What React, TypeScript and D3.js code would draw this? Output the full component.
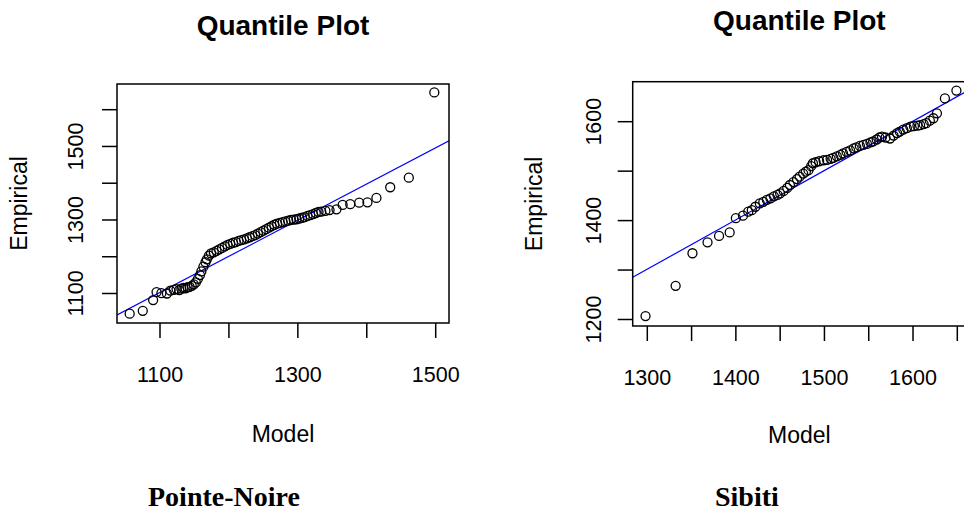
import React from "react";
import * as d3 from "d3";

// ---------- Data ----------
// Pointe-Noire quantile pairs (model, empirical)
const modelPN = [1056,1075,1090,1095,1102,1110,1115,1120,1124,1128,1131,1134,1137,1140,1143,1146,1149,1152,1155,1158,1160,1163,1166,1168,1171,1174,1178,1182,1186,1190,1194,1198,1202,1206,1210,1214,1218,1222,1226,1230,1234,1238,1242,1246,1250,1254,1258,1262,1266,1270,1274,1278,1282,1286,1290,1294,1298,1302,1306,1310,1314,1318,1322,1326,1330,1334,1340,1346,1356,1365,1376,1389,1401,1414,1434,1461,1498];
const empPN = [1045,1053,1082,1104,1101,1100,1108,1110,1112,1109,1113,1115,1114,1117,1118,1121,1125,1130,1140,1150,1160,1173,1185,1193,1203,1209,1212,1216,1220,1224,1228,1232,1235,1238,1240,1243,1245,1247,1250,1253,1256,1259,1263,1267,1271,1275,1279,1283,1287,1290,1292,1294,1296,1298,1300,1301,1302,1304,1306,1308,1311,1313,1316,1319,1322,1323,1325,1327,1329,1341,1343,1347,1348,1360,1389,1415,1647];

// Sibiti quantile pairs (model, empirical)
const modelSB = [1298,1332,1351,1368,1381,1393,1400,1408,1414,1418,1422,1427,1431,1435,1439,1443,1447,1450,1454,1458,1461,1465,1469,1472,1476,1479,1482,1485,1487,1490,1494,1499,1503,1507,1510,1514,1518,1521,1525,1529,1533,1536,1540,1544,1548,1552,1555,1559,1562,1565,1569,1574,1578,1582,1585,1589,1593,1597,1601,1605,1608,1612,1615,1619,1623,1627,1636,1649];
const empSB = [1207,1268,1334,1356,1369,1376,1405,1410,1418,1421,1428,1435,1438,1442,1445,1449,1452,1455,1460,1466,1472,1478,1484,1489,1495,1499,1502,1510,1516,1518,1520,1522,1523,1525,1527,1530,1533,1536,1539,1542,1546,1548,1551,1553,1555,1558,1560,1564,1568,1570,1568,1566,1572,1577,1580,1584,1587,1590,1591,1592,1593,1595,1597,1602,1607,1617,1647,1663];

// Reference lines (intercept, slope)
const linePN = [20.5, 0.984];
const lineSB = [4.4, 0.998];

// Ticks
const xTicksPN = [1100, 1200, 1300, 1400, 1500];
const xLabelsPN = [1100, 1300, 1500];
const yTicksPN = [1100, 1200, 1300, 1400, 1500, 1600];
const yLabelsPN = [1100, 1300, 1500];
const xTicksSB = [1300, 1350, 1400, 1450, 1500, 1550, 1600, 1650];
const xLabelsSB = [1300, 1400, 1500, 1600];
const yTicksSB = [1200, 1300, 1400, 1500, 1600];
const yLabelsSB = [1200, 1400, 1600];

const panelTitles = ["Quantile Plot", "Quantile Plot"];
const stationNames = ["Pointe-Noire", "Sibiti"];

const SANS = "'Liberation Sans', Arial, sans-serif";
const SERIF = "'Liberation Serif', 'Times New Roman', serif";

type PanelProps = {
  id: string;
  xs: number[];
  ys: number[];
  line: number[];
  xTicks: number[];
  xLabels: number[];
  yTicks: number[];
  yLabels: number[];
  xScale: d3.ScaleLinear<number, number>;
  yScale: d3.ScaleLinear<number, number>;
  box: { x0: number; x1: number; y0: number; y1: number };
  title: string;
  titleY: number;
  xLabY: number;
  modelY: number;
  yLabX: number;
  empX: number;
};

function Panel(p: PanelProps) {
  const { box, xScale, yScale } = p;
  const cx = (box.x0 + box.x1) / 2;
  const cy = (box.y0 + box.y1) / 2;
  const xa = xScale.invert(box.x0);
  const xb = xScale.invert(box.x1);
  const lineGen = d3
    .line<number>()
    .x((d) => xScale(d))
    .y((d) => yScale(p.line[0] + p.line[1] * d));
  return (
    <g>
      <defs>
        <clipPath id={`clip-${p.id}`}>
          <rect x={box.x0} y={box.y0} width={box.x1 - box.x0} height={box.y1 - box.y0} />
        </clipPath>
      </defs>
      <text x={cx} y={p.titleY} textAnchor="middle" fontFamily={SANS} fontWeight="bold" fontSize={28}>
        {p.title}
      </text>
      <g clipPath={`url(#clip-${p.id})`}>
        <path d={lineGen([xa, xb]) || ""} stroke="#0000ff" strokeWidth={1.2} fill="none" />
        {p.xs.map((x, i) => (
          <circle key={i} cx={xScale(x)} cy={yScale(p.ys[i])} r={4.5} fill="none" stroke="#000" strokeWidth={1.3} />
        ))}
      </g>
      <rect x={box.x0} y={box.y0} width={box.x1 - box.x0} height={box.y1 - box.y0} fill="none" stroke="#000" strokeWidth={1.5} />
      {p.xTicks.map((t) => (
        <line key={t} x1={xScale(t)} x2={xScale(t)} y1={box.y1} y2={box.y1 + 15} stroke="#000" strokeWidth={1.5} />
      ))}
      {p.xLabels.map((t) => (
        <text key={t} x={xScale(t)} y={p.xLabY} textAnchor="middle" fontFamily={SANS} fontSize={21.5}>
          {t}
        </text>
      ))}
      {p.yTicks.map((t) => (
        <line key={t} x1={box.x0 - 15} x2={box.x0} y1={yScale(t)} y2={yScale(t)} stroke="#000" strokeWidth={1.5} />
      ))}
      {p.yLabels.map((t) => (
        <text
          key={t}
          transform={`translate(${p.yLabX},${yScale(t)}) rotate(-90)`}
          textAnchor="middle"
          fontFamily={SANS}
          fontSize={21.5}
        >
          {t}
        </text>
      ))}
      <text x={cx} y={p.modelY} textAnchor="middle" fontFamily={SANS} fontSize={23}>
        Model
      </text>
      <text transform={`translate(${p.empX},${cy}) rotate(-90)`} textAnchor="middle" fontFamily={SANS} fontSize={23}>
        Empirical
      </text>
    </g>
  );
}

export default function App() {
  const xPN = d3.scaleLinear().domain([1100, 1500]).range([160, 435.7]);
  const yPN = d3.scaleLinear().domain([1100, 1600]).range([293.5, 109.7]);
  const xSB = d3.scaleLinear().domain([1300, 1650]).range([647.3, 957.3]);
  const ySB = d3.scaleLinear().domain([1200, 1600]).range([319.5, 121.7]);
  return (
    <svg
      width={964}
      height={513}
      style={{ position: "absolute", left: 0, top: 0, background: "#fff" }}
    >
      <rect x={0} y={0} width={964} height={513} fill="#fff" />
      <Panel
        id="pn"
        xs={modelPN}
        ys={empPN}
        line={linePN}
        xTicks={xTicksPN}
        xLabels={xLabelsPN}
        yTicks={yTicksPN}
        yLabels={yLabelsPN}
        xScale={xPN}
        yScale={yPN}
        box={{ x0: 117, x1: 449, y0: 84, y1: 323 }}
        title={panelTitles[0]}
        titleY={35}
        xLabY={382}
        modelY={442}
        yLabX={83}
        empX={27}
      />
      <Panel
        id="sb"
        xs={modelSB}
        ys={empSB}
        line={lineSB}
        xTicks={xTicksSB}
        xLabels={xLabelsSB}
        yTicks={yTicksSB}
        yLabels={yLabelsSB}
        xScale={xSB}
        yScale={ySB}
        box={{ x0: 632.7, x1: 966, y0: 81.7, y1: 326 }}
        title={panelTitles[1]}
        titleY={30}
        xLabY={385}
        modelY={443}
        yLabX={600.5}
        empX={542}
      />
      <text x={148} y={506} fontFamily={SERIF} fontWeight="bold" fontSize={28}>
        {stationNames[0]}
      </text>
      <text x={715} y={506} fontFamily={SERIF} fontWeight="bold" fontSize={28}>
        {stationNames[1]}
      </text>
    </svg>
  );
}
